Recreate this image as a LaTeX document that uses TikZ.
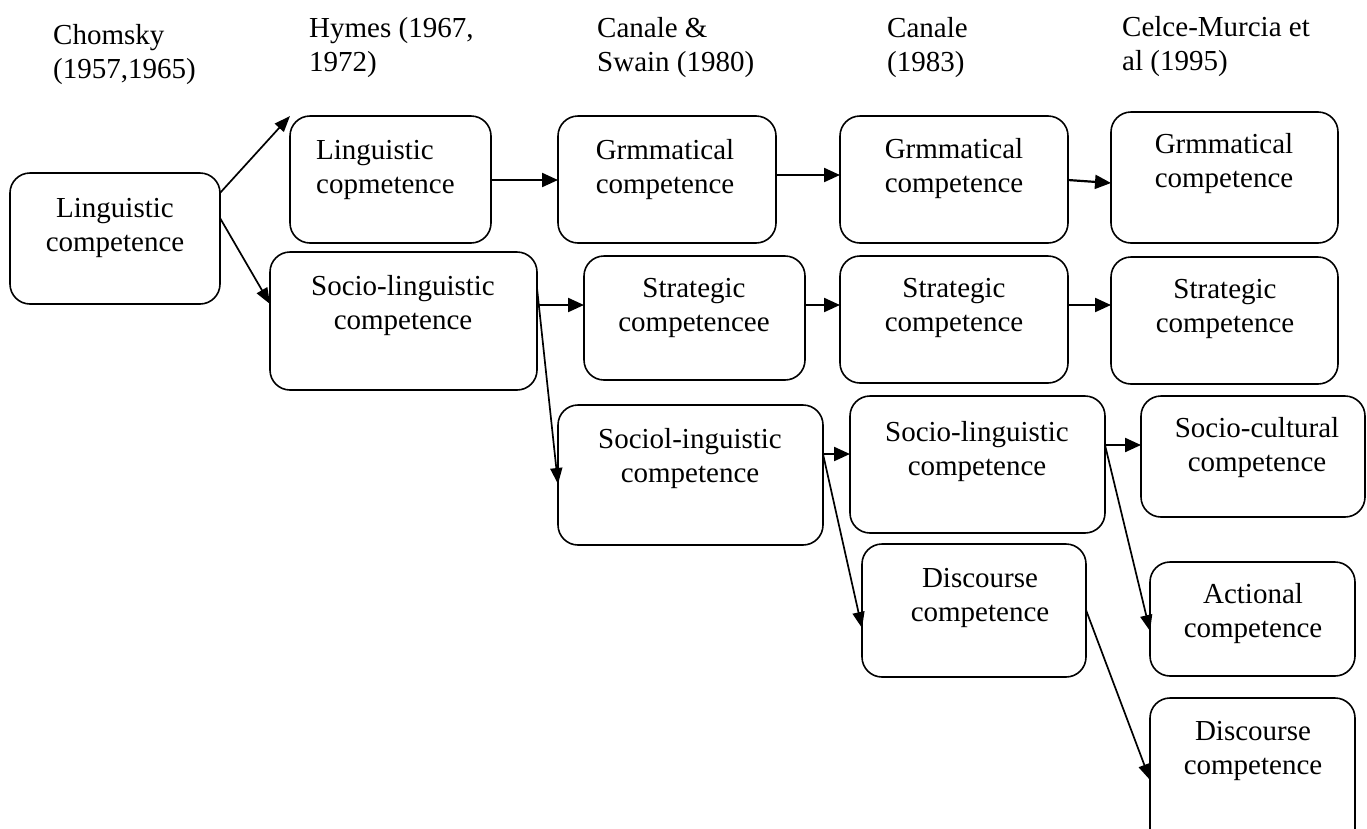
\documentclass[tikz,border=0pt]{standalone}
\usepackage{fontspec}
\setmainfont{Liberation Serif}
\usetikzlibrary{arrows.meta}
\tikzset{
  box/.style={draw, line width=1.6pt, rounded corners=20pt, inner sep=0pt, outer sep=0pt},
  lbl/.style={anchor=base, align=center, inner sep=0pt, font=\fontsize{29pt}{34pt}\selectfont},
  hdr/.style={anchor=base west, align=left, inner sep=0pt, font=\fontsize{29pt}{34pt}\selectfont},
  arr/.style={line width=2.2pt, -{Triangle[length=16pt,width=14pt]}},
  darr/.style={line width=1.7pt, -{Triangle[length=16pt,width=12pt]}},
}
\begin{document}
\begin{tikzpicture}[x=1pt,y=-1pt]
\useasboundingbox (0,0) rectangle (1367,828);
\clip (0,0) rectangle (1367,828);
% headers (anchor = baseline of the last line)
\node[hdr] (h1) at (53,78) {Chomsky\\(1957,1965)};
\node[hdr] (h2) at (309,71) {Hymes (1967,\\1972)};
\node[hdr] (h3) at (597,71) {Canale \&\\Swain (1980)};
\node[hdr] (h4) at (887,71) {Canale\\(1983)};
\node[hdr] (h5) at (1122,70) {Celce-Murcia et\\al (1995)};
% boxes
\node[box, minimum width=210pt, minimum height=131pt] (a) at (115,238.5) {};
\node[box, minimum width=201pt, minimum height=127pt] (b) at (390.5,179.5) {};
\node[box, minimum width=267pt, minimum height=138pt] (c) at (403.5,321) {};
\node[box, minimum width=218pt, minimum height=127pt] (d) at (667,179.5) {};
\node[box, minimum width=221pt, minimum height=124pt] (e) at (694.5,318) {};
\node[box, minimum width=265pt, minimum height=140pt] (f) at (690.5,475) {};
\node[box, minimum width=228pt, minimum height=127pt] (g) at (954,179.5) {};
\node[box, minimum width=228pt, minimum height=127pt] (h) at (954,319.5) {};
\node[box, minimum width=255pt, minimum height=137pt] (i) at (977.5,464.5) {};
\node[box, minimum width=224pt, minimum height=133pt] (j) at (974,610.5) {};
\node[box, minimum width=227pt, minimum height=131pt] (k) at (1224.5,177.5) {};
\node[box, minimum width=227pt, minimum height=127pt] (l) at (1224.5,320.5) {};
\node[box, minimum width=224pt, minimum height=121pt] (m) at (1253,456.5) {};
\node[box, minimum width=205pt, minimum height=114pt] (n) at (1252.5,619) {};
\node[box, minimum width=205pt, minimum height=152pt] (o) at (1252.5,774) {};
% labels (anchor = baseline of the last line)
\node[lbl] (at) at (115,251) {Linguistic\\competence};
\node[lbl, anchor=base west, align=left] (bt) at (316,193) {Linguistic\\copmetence};
\node[lbl] (ct) at (403,329) {Socio-linguistic\\competence};
\node[lbl] (dt) at (665,193) {Grmmatical\\competence};
\node[lbl] (et) at (694,331) {Strategic\\competencee};
\node[lbl] (ft) at (690,482) {Sociol-inguistic\\competence};
\node[lbl] (gt) at (954,192) {Grmmatical\\competence};
\node[lbl] (ht) at (954,331) {Strategic\\competence};
\node[lbl] (it) at (977,475) {Socio-linguistic\\competence};
\node[lbl] (jt) at (980,621) {Discourse\\competence};
\node[lbl] (kt) at (1224,187) {Grmmatical\\competence};
\node[lbl] (lt) at (1225,332) {Strategic\\competence};
\node[lbl] (mt) at (1257,471) {Socio-cultural\\competence};
\node[lbl] (nt) at (1253,637) {Actional\\competence};
\node[lbl] (ot) at (1253,774) {Discourse\\competence};
% connectors
\draw[darr] (a.east |- 0,193) -- (b.north west);
\draw[darr] (a.east |- 0,218) -- (c.west |- 0,304);
\draw[arr] (b.east |- 0,180) -- (d.west |- 0,180);
\draw[arr] (c.east |- 0,305) -- (e.west |- 0,305);
\draw[darr] (c.east |- 0,288) -- (f.west |- 0,484);
\draw[arr] (d.east |- 0,175) -- (g.west |- 0,175);
\draw[arr] (e.east |- 0,305) -- (h.west |- 0,305);
\draw[arr] (g.east |- 0,180) -- (k.west |- 0,183);
\draw[arr] (h.east |- 0,305) -- (l.west |- 0,305);
\draw[arr] (f.east |- 0,454) -- (i.west |- 0,454);
\draw[darr] (f.east |- 0,454) -- (j.west |- 0,628);
\draw[arr] (i.east |- 0,445) -- (m.west |- 0,445);
\draw[darr] (i.east |- 0,445) -- (n.west |- 0,631);
\draw[darr] (j.east |- 0,610) -- (o.west |- 0,780);
\end{tikzpicture}
\end{document}
